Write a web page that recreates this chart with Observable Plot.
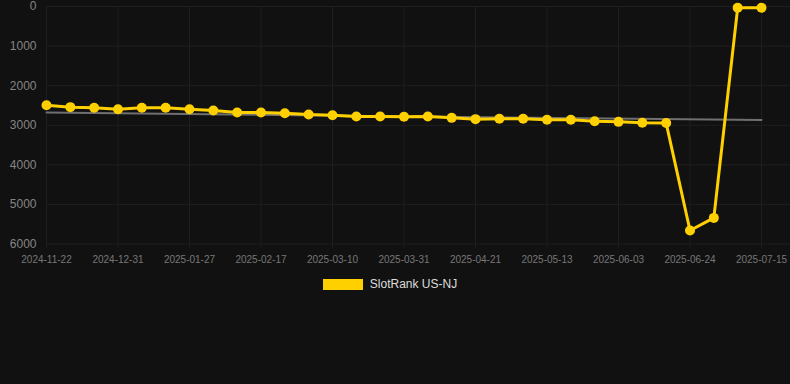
<!DOCTYPE html>
<html>
<head>
<meta charset="utf-8">
<script src="https://cdn.jsdelivr.net/npm/d3@7"></script>
<script src="https://cdn.jsdelivr.net/npm/@observablehq/plot@0.6"></script>
<style>
  html, body { margin: 0; padding: 0; background: #111111; }
  body { width: 790px; height: 384px; overflow: hidden; font-family: "Liberation Sans", Arial, Helvetica, sans-serif; }
  #legend { display: flex; justify-content: center; align-items: center; gap: 7px; margin-top: 9px; padding-right: 10px; color: #dddddd; font-size: 12px; }
  #legend .sw { width: 40px; height: 11px; background: #FFD000; }
</style>
</head>
<body>
<div id="chart"></div>
<div id="legend"><span class="sw"></span><span>SlotRank US-NJ</span></div>
<script>
const dates = [
  "2024-11-22","2024-12-03","2024-12-17","2024-12-31","2025-01-09","2025-01-18",
  "2025-01-27","2025-02-03","2025-02-10","2025-02-17","2025-02-24","2025-03-03",
  "2025-03-10","2025-03-17","2025-03-24","2025-03-31","2025-04-07","2025-04-14",
  "2025-04-21","2025-04-28","2025-05-06","2025-05-13","2025-05-20","2025-05-27",
  "2025-06-03","2025-06-10","2025-06-17","2025-06-24","2025-07-01","2025-07-08",
  "2025-07-15"
];
const ranks = [
  2493, 2543, 2560, 2594, 2560, 2560, 2594, 2628, 2678, 2678, 2695, 2729,
  2746, 2779, 2779, 2785, 2780, 2813, 2846, 2838, 2838, 2863, 2863, 2897,
  2914, 2939, 2945, 5659, 5340, 33, 33
];
const trendDates = ["2024-11-22", "2025-07-15"];
const trendValues = [2680, 2870];
const yTicks = [0, 1000, 2000, 3000, 4000, 5000, 6000];

const idx = d => dates.indexOf(d);
const xTicks = dates.map((d, i) => i).filter(i => i % 3 === 0);
const data = dates.map((d, i) => ({i, rank: ranks[i]}));
const trend = trendDates.map((d, k) => ({i: idx(d), rank: trendValues[k]}));

const chart = Plot.plot({
  width: 790,
  height: 268,
  marginLeft: 46,
  marginRight: 0,
  marginTop: 6,
  marginBottom: 24.5,
  style: {background: "#111111", fontFamily: "'Liberation Sans', Arial, Helvetica, sans-serif"},
  x: {type: "linear", domain: [0, dates.length - 1], range: [46, 761], label: null},
  y: {domain: [0, 6000], range: [6, 243.5], label: null},
  marks: [
    Plot.gridY(yTicks, {stroke: "#1f1f1f", strokeOpacity: 1}),
    Plot.gridX(xTicks, {stroke: "#1f1f1f", strokeOpacity: 1, y1: 0, y2: 6000}),
    Plot.ruleX(xTicks, {stroke: "#1f1f1f", y1: 6000, y2: 5900, dy: 4}),
    Plot.axisY(yTicks, {tickSize: 0, tickPadding: 10, tickFormat: d3.format("d"), fontSize: 12, fill: "#858585", label: null}),
    Plot.axisX(xTicks, {tickSize: 0, tickPadding: 12, fontSize: 10, fill: "#777777", label: null, tickFormat: i => dates[i]}),
    Plot.line(trend, {x: "i", y: "rank", stroke: "#707070", strokeWidth: 2}),
    Plot.line(data, {x: "i", y: "rank", stroke: "#FFD000", strokeWidth: 3}),
    Plot.dot(data, {x: "i", y: "rank", r: 5, fill: "#FFD000", stroke: "#FFD000", strokeWidth: 0})
  ]
});
document.getElementById("chart").appendChild(chart);
</script>
</body>
</html>
